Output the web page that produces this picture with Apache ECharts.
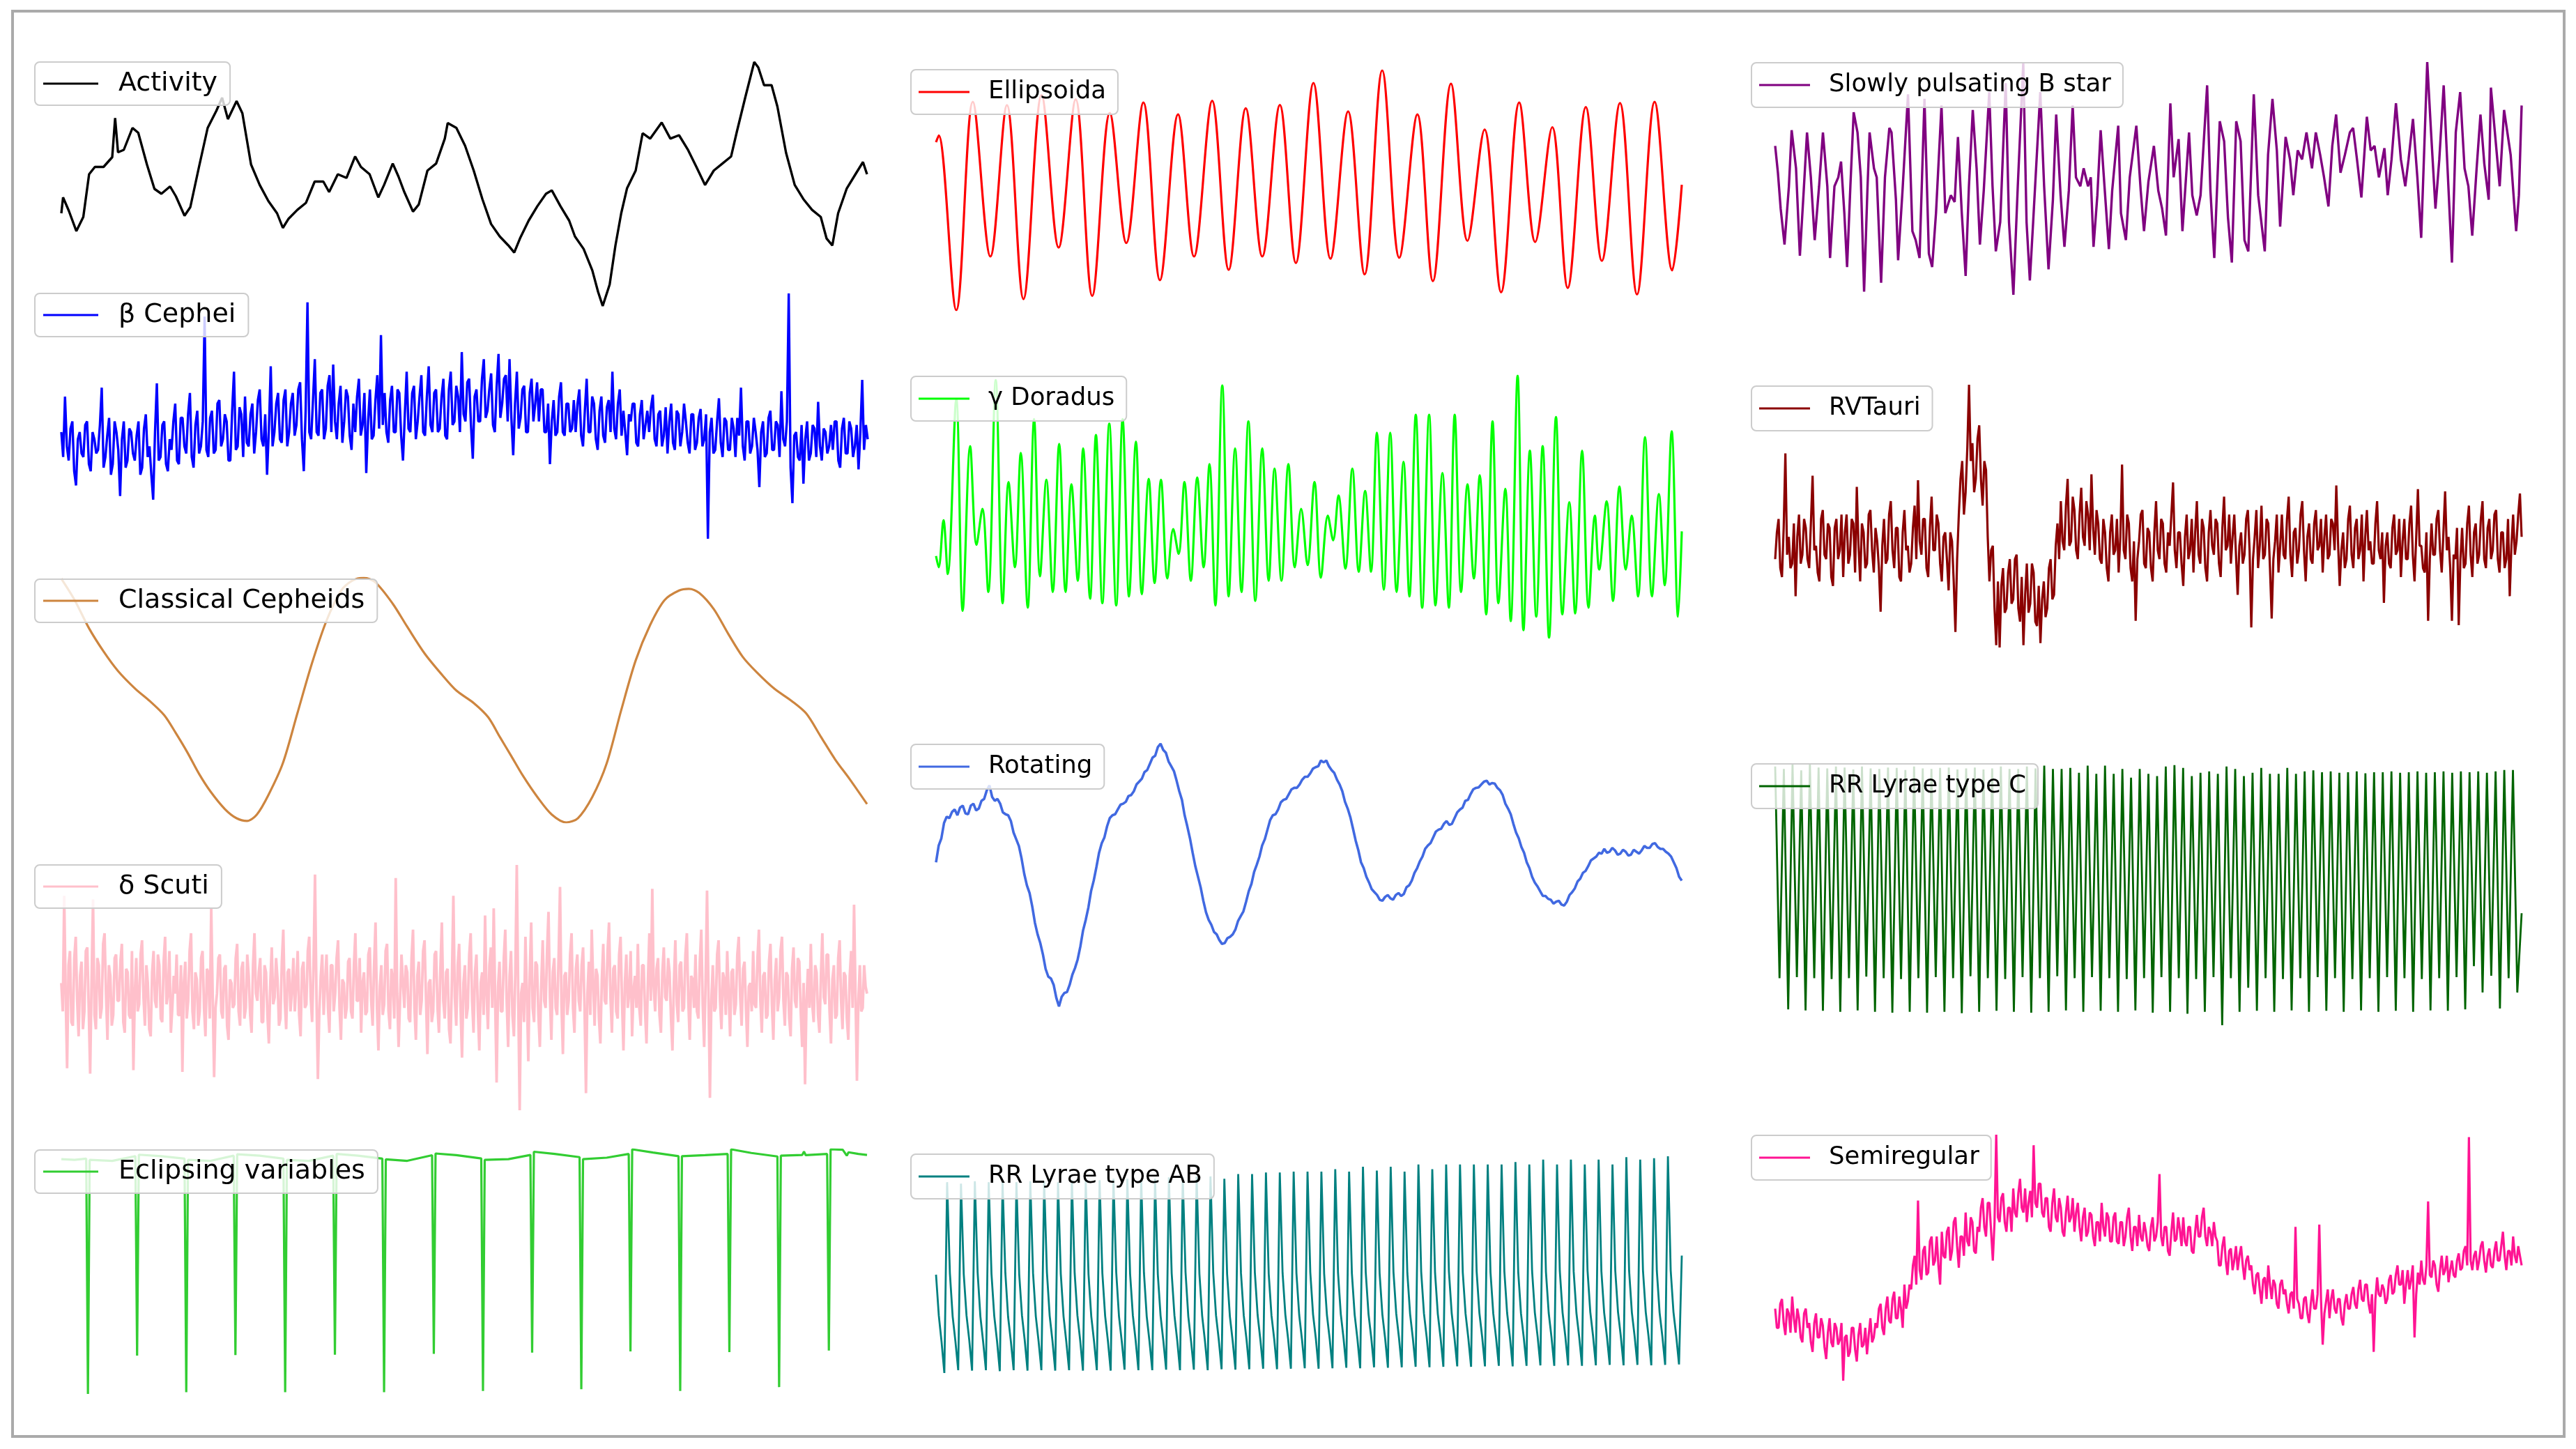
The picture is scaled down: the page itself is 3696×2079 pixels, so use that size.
<!DOCTYPE html>
<html>
<head>
<meta charset="utf-8">
<title>Variable star light curves</title>
<script src="https://cdn.jsdelivr.net/npm/echarts@6/dist/echarts.min.js"></script>
<style>
  html, body { margin: 0; padding: 0; background: #ffffff; }
  #chart { width: 3696px; height: 2079px; }
</style>
</head>
<body>
<div id="chart"></div>
<script>
// light curves, flux in arbitrary relative units
const activityTime = [107,110,120,133,145,155,165,180,195,200,205,215,230,240,255,268,280,295,305,320,
  330,345,360,375,385,395,410,420,435,450,465,480,490,500,515,530,545,560,570,585,
  600,615,625,640,655,665,680,690,700,715,725,740,755,770,775,790,805,820,835,850,
  865,880,890,900,915,930,945,955,970,985,995,1010,1025,1035,1043,1055,1065,1075,1085,1100,
  1112,1125,1145,1160,1175,1190,1205,1220,1235,1250,1265,1275,1290,1305,1312,1322,1335,1345,1360,1375,
  1390,1405,1420,1430,1440,1450,1465,1480,1493,1500];
const activityFlux = [38,44.5,39,30.7,36.5,54,57,57,61,77,63,64,73,71,58,48,46,49,45,37,
  40.5,57,73,80,85.4,76.6,84,79,58,49.6,43,38,32,35.8,39.4,42.3,51,51,46.7,54,
  52.5,61.3,57,54,44.5,49.6,58.4,53,46.7,38.7,41.6,55.5,58.4,68.6,75,73,65.7,55.5,43.8,33.6,
  28.5,24.8,21.9,27.7,35,40.9,46,47.4,40.9,35,28.5,23.4,14.6,5.8,0,8.8,24.8,38,48.2,55.5,
  70.8,68.6,75.2,68.6,70,64.2,57,49.6,55.5,58.4,61.3,71.5,86,100,97.8,90.5,90.5,81.8,62.8,49.6,
  43.8,39.4,36.5,27.7,24.8,38,48.2,54,59,54];

const betaCepFlux = [
  300,230,400,260,220,310,330,190,150,280,300,240,230,320,330,210,190,300,280,240,
  250,320,425,200,230,290,340,180,210,330,300,250,120,280,330,200,220,310,300,240,
  220,290,330,180,200,310,350,230,260,180,110,300,437,220,230,320,330,210,190,280,
  250,330,380,220,210,340,340,260,240,350,410,230,200,320,360,240,260,330,625,250,
  230,340,360,240,250,380,390,260,280,350,330,220,220,360,470,250,260,370,350,230,
  400,270,260,350,380,240,300,390,420,280,260,350,180,310,485,260,300,380,410,280,
  270,390,420,260,300,380,410,290,320,420,440,280,190,360,665,300,280,390,505,300,
  290,410,420,280,310,430,460,300,490,330,280,380,430,270,330,420,400,290,250,380,
  300,400,450,290,320,410,185,330,420,280,290,390,460,310,573,320,410,300,270,390,
  430,300,300,420,410,290,220,350,470,310,300,410,430,280,330,400,460,300,290,400,
  485,320,300,410,420,300,310,400,450,290,280,420,470,320,330,430,400,300,525,350,
  330,440,450,320,225,400,420,330,330,450,505,340,360,420,465,320,300,430,520,340,
  380,450,460,330,505,340,235,380,470,310,340,420,430,300,300,410,450,330,380,440,
  330,420,420,300,300,380,210,330,390,290,300,400,440,300,290,380,380,300,310,390,
  300,380,420,290,260,360,450,300,300,400,380,280,250,360,400,290,270,370,390,300,
  470,310,280,380,420,290,360,300,235,350,330,380,380,270,260,350,390,280,320,360,
  300,370,405,280,260,350,360,260,290,370,240,330,380,270,250,360,350,260,300,380,
  330,270,240,350,350,250,270,340,365,260,280,350,0,300,340,240,250,330,395,270,
  230,340,330,250,250,340,310,230,340,290,425,260,220,330,330,240,260,340,300,250,
  145,300,330,230,240,340,360,250,250,330,320,230,415,280,260,330,690,200,100,290,
  300,230,220,320,155,280,330,220,240,320,310,230,385,260,220,310,300,240,260,320,
  250,330,330,220,200,310,340,240,240,330,310,230,260,320,195,300,447,250,320,280];

const cepheidTime = [107,130,155,180,205,235,260,285,305,325,345,365,390,410,428,445,465,490,515,540,
  565,590,610,630,650,680,705,735,765,790,820,845,865,885,905,930,955,980,1000,1025,
  1050,1075,1100,1125,1150,1175,1192,1210,1235,1260,1285,1310,1340,1370,1395,1420,1445,1470,1500];
const cepheidFlux = [99.6,90.9,79.3,69.9,61.9,54.6,49.6,43.8,36.5,28.6,19.9,12.6,5.4,1.7,0.6,3.2,11.2,24.2,44.5,64.8,
  82.2,94.5,98.8,100,98.1,89.4,80,69.1,60.4,53.9,48.8,43,35,27.1,19.1,10.4,3.2,0,1.7,10.4,
  24.2,45.9,66.2,80.7,90.9,94.8,95.5,93.8,87.2,77.1,67.7,61.2,54.6,49.6,44.5,35.1,25.7,17.7,7.5];

const deltaScutiFlux = [
  330,250,575,300,90,380,420,220,210,400,460,280,180,350,390,200,250,420,430,260,75,340,565,240,200,400,380,230,260,440,470,300,170,380,350,210,240,400,410,280,
  280,390,440,220,190,370,360,240,230,420,85,300,400,250,270,410,450,290,210,380,330,200,180,360,420,280,260,410,380,230,220,390,460,270,300,420,190,260,350,300,
  410,240,240,380,80,330,390,230,280,420,470,250,200,360,340,210,250,400,420,260,180,370,360,230,540,300,65,260,300,400,410,250,230,370,380,210,170,340,330,260,
  270,400,440,250,210,370,390,230,260,410,350,240,190,380,470,300,280,360,400,220,220,380,360,240,160,330,430,270,290,400,340,210,230,390,480,280,200,360,370,250,
  310,400,250,330,420,240,180,370,390,260,270,420,460,290,220,380,635,300,60,250,350,410,240,330,410,260,190,380,380,250,300,400,450,260,170,340,330,230,260,390,
  400,250,230,380,470,280,280,400,190,330,360,240,250,410,430,280,210,380,500,260,140,320,380,240,270,420,440,250,200,370,340,230,625,300,150,280,410,330,260,380,
  360,230,220,400,480,260,170,350,390,240,280,420,450,290,130,330,340,220,250,410,420,260,190,370,500,280,230,360,370,200,160,340,575,290,210,380,440,260,120,330,
  380,230,260,410,470,280,190,360,410,250,140,330,360,240,520,300,200,380,430,260,540,280,50,320,390,250,250,400,480,280,150,350,420,240,180,360,662,290,-28,300,
  330,220,460,300,110,360,500,260,220,390,380,240,150,330,450,280,260,420,530,290,170,360,400,260,240,400,600,270,130,350,360,240,280,410,470,260,190,370,410,280,
  250,380,430,260,20,300,390,240,480,330,210,370,350,230,160,340,440,280,270,420,500,290,190,370,380,250,230,410,460,280,140,330,410,260,300,420,180,310,350,260,
  440,260,210,380,380,250,160,340,470,280,595,320,250,370,400,240,190,360,430,290,280,400,360,230,140,330,450,270,220,380,390,250,260,410,470,280,170,350,340,260,
  410,250,230,390,480,270,150,330,590,300,7,280,380,250,260,410,450,280,200,360,340,240,420,300,180,360,370,240,270,410,460,290,210,370,390,260,150,320,330,250,
  420,270,260,400,480,280,190,350,360,230,240,390,440,270,170,340,400,250,290,420,460,280,210,360,350,230,180,370,430,280,260,400,390,250,150,330,45,280,370,260,
  440,270,220,380,360,240,190,350,470,290,270,410,410,250,160,340,380,230,240,400,450,280,200,360,350,230,170,350,420,260,550,300,55,280,380,250,260,380,320,300];

const eclipsingTime = [107,130,150,153,156,195,235,238,241,280,320,323,326,365,405,408,411,450,491,494,
  497,535,577,580,583,620,662,665,668,705,748,751,754,790,833,836,839,880,918,921,
  924,960,1003,1006,1009,1050,1088,1091,1094,1130,1174,1177,1180,1220,1259,1262,1265,1300,1345,1348,
  1351,1388,1391,1394,1431,1434,1437,1458,1465,1468,1485,1500];
const eclipsingFlux = [95.8,95.5,96.0,0.2,95.5,95.1,97.0,15.8,97.6,97.0,96.0,0.9,95.5,95.1,97.2,16,97.8,97.2,96.0,0.9,
  95.5,95.1,97.2,16.2,97.9,97.2,96.0,0.9,95.7,95.1,97.4,16.5,98.1,97.4,96.1,1.4,95.5,95.8,97.5,17,
  98.8,97.9,96.6,2.1,95.8,96.4,97.9,17.5,99.8,98.5,97.0,1.4,97.0,97.4,97.9,17.2,99.8,98.3,96.9,3,
  97.2,97.5,98.9,97.4,97.9,17.9,99.8,99.6,97.2,98.6,97.9,97.5];

const ellipsoidalTime = [108,113,146,177,210,241,272,306,338,370,401,434,465,497,528,562,592,626,657,689,
  720,753,783,816,848,881,912,945,977,1011,1040,1074,1105,1137,1168,1202,1232,1264,1293,1327,
  1357,1391,1423,1456,1489,1507];
const ellipsoidalFlux = [69.9,72.7,0.4,86.6,22.6,85.2,5,89.4,26.3,87.6,6.3,82,28.2,86.3,12.8,81.4,22.6,87,17.1,83.9,
  22.6,85.3,19.9,94.4,21.7,82.6,15.2,99.6,22.1,81.4,12.4,94.1,29.1,75.1,7.8,86.3,28.6,76.1,9.6,84.4,
  20.8,86.1,6.9,86.6,16.9,52.3];

const gammaDorTime = [108,113,122,130,146,158,172,184,195,206,220,233,244,256,267,280,292,303,315,327,
  339,351,362,374,384,397,408,420,433,446,458,470,483,494,507,518,530,542,553,563,
  574,586,598,610,621,632,645,657,669,681,694,707,720,732,743,756,769,781,793,805,
  818,830,843,853,863,876,889,901,913,924,935,948,960,972,985,996,1008,1020,1033,1045,
  1058,1070,1081,1093,1105,1117,1128,1140,1152,1163,1176,1186,1199,1210,1222,1234,1246,1258,1271,1283,
  1296,1307,1320,1332,1344,1352,1366,1378,1390,1402,1413,1425,1438,1451,1464,1475,1488,1500,1507];
const gammaDorFlux = [185,160,265,145,535,63,430,210,290,105,577,80,350,160,415,70,490,140,355,105,
  435,105,345,130,425,90,455,80,480,75,490,95,440,100,357,125,355,135,245,190,
  350,130,360,160,390,75,565,95,425,105,485,85,425,130,380,130,390,160,290,165,
  350,137,275,220,320,157,380,150,330,150,460,110,460,105,395,95,500,70,500,75,
  370,70,500,105,345,135,365,55,485,80,335,40,587,20,420,50,430,3,495,55,
  305,57,420,70,275,155,307,85,340,155,275,95,450,95,323,120,463,50,240];

const rotatingFlux = [
  300,335,350,382,395,392,405,410,398,414,418,402,400,418,422,408,412,428,432,450,
  460,436,428,432,422,404,400,398,386,362,348,334,308,276,252,236,208,174,150,132,
  108,78,62,58,45,18,0,20,28,30,45,66,80,98,125,158,180,206,240,262,
  290,320,340,352,375,392,398,400,410,420,422,426,438,440,448,462,468,474,488,492,
  505,518,522,540,547,534,528,510,500,490,470,448,430,398,375,350,320,292,270,248,
  220,196,180,170,155,150,138,130,132,142,145,150,160,178,188,198,218,240,255,280,
  295,312,335,348,368,388,398,400,410,425,430,432,442,452,455,455,462,472,478,478,
  485,495,498,500,512,508,512,500,492,486,472,462,448,426,412,394,370,345,325,300,
  288,270,258,244,238,232,222,220,228,232,225,222,232,236,230,234,248,252,262,278,
  288,302,312,328,335,340,352,364,368,370,380,386,378,380,392,404,410,414,428,430,
  442,452,455,456,462,468,470,462,465,464,455,450,440,422,412,400,380,362,350,332,
  320,300,288,270,258,250,240,230,230,224,222,214,218,220,212,210,218,232,238,246,
  260,266,278,282,292,304,308,312,320,318,328,320,322,330,325,316,318,326,322,314,
  316,326,322,318,325,334,330,330,338,340,332,328,328,322,318,312,300,288,270,262];

const rrLyraeABFlux = [205,120,65,0,
  398,208,118,66,6, 395,206,120,68,5, 400,210,118,65,6, 398,207,119,67,4, 398,209,117,66,6,
  398,206,120,68,5, 400,208,118,66,6, 400,210,119,67,5, 398,207,118,65,6, 402,209,120,68,5,
  402,206,118,66,6, 402,208,119,67,5, 405,210,118,66,7, 405,207,120,68,6, 405,209,118,66,6,
  405,206,119,67,7, 408,208,120,68,6, 408,210,118,66,7, 410,207,119,67,6, 410,209,120,69,8,
  405,206,118,67,7, 415,208,120,70,8, 415,210,121,69,9, 418,207,120,70,8, 418,209,122,71,9,
  420,208,121,70,10, 420,210,122,72,9, 420,207,121,71,10, 425,209,123,72,11, 420,208,122,71,10,
  430,210,123,73,12, 422,208,122,72,11, 430,211,124,73,12, 420,209,123,72,13, 435,211,124,74,12,
  425,209,123,73,13, 435,212,125,74,14, 435,210,124,73,13, 435,212,125,75,14, 435,210,124,74,15,
  435,212,125,75,14, 440,211,124,74,15, 435,213,126,76,16, 445,211,125,75,15, 435,213,126,76,16,
  445,212,125,75,15, 435,214,127,77,16, 445,212,126,76,17, 435,214,127,77,16, 450,213,126,76,17,
  445,214,127,77,16, 448,213,126,76,17, 452,214,127,77,18,
  245];

const spbTime = [110,115,120,127,135,140,148,155,162,168,175,182,190,197,205,210,218,225,230,236,
  241,247,253,260,266,272,278,282,290,295,303,310,318,322,330,334,342,352,360,366,
  373,382,390,396,403,413,420,430,437,443,450,457,463,470,477,483,490,500,506,512,
  520,530,536,544,552,562,568,574,580,593,600,608,616,622,630,637,645,652,658,666,
  672,680,685,690,697,703,710,718,724,735,740,749,756,768,776,782,790,800,808,815,
  822,830,836,845,852,864,870,878,885,897,903,910,920,928,935,942,950,958,965,972,
  982,990,1002,1008,1016,1024,1030,1040,1048,1054,1062,1070,1078,1088,1095,1103,1110,1118,1125,1132,
  1140,1148,1157,1163,1170,1178,1188,1195,1202,1210,1220,1226,1233,1241,1250,1258,1264,1272,1280,1287,
  1298,1305,1313,1320,1328,1335,1343,1350,1358,1366,1373,1380,1388,1395,1402,1410,1414,1422,1430,1438,
  1444,1450,1460,1465,1470];
const spbFlux = [333,273,193,113,243,368,283,88,233,363,263,123,243,363,243,83,243,263,298,183,
  63,243,408,363,263,8,233,363,283,263,28,263,373,363,213,78,233,448,143,123,
  83,438,93,63,183,423,183,223,208,353,183,43,243,413,283,113,233,453,243,98,
  163,473,163,1,243,518,163,33,163,453,243,58,213,403,223,108,233,423,263,243,
  283,243,263,108,223,368,243,103,233,378,183,123,263,378,233,143,253,333,233,193,
  133,428,263,348,143,363,223,178,223,468,233,83,388,343,173,73,388,343,123,98,
  448,223,98,313,438,323,153,353,303,223,323,303,363,283,363,313,263,198,333,403,
  273,313,363,373,303,218,398,323,333,263,328,223,303,428,303,243,303,393,263,128,
  520,363,193,303,468,283,73,363,453,283,243,133,283,403,293,213,463,353,243,413,
  363,313,143,223,423];

const rvTauriFlux = [
  200,260,290,180,160,270,437,210,250,180,190,280,117,250,300,190,210,290,270,200,
  180,280,387,220,230,170,150,290,310,210,200,280,270,160,140,270,290,200,220,300,
  160,260,300,190,210,290,280,170,362,230,150,280,260,180,190,300,310,220,170,270,
  240,180,82,230,290,190,200,300,330,220,180,270,270,160,150,260,310,220,230,170,
  190,270,320,200,377,240,210,290,290,180,160,270,340,220,220,300,280,190,150,250,
  260,200,130,260,240,150,37,200,300,380,420,300,350,450,591,420,460,350,380,470,
  500,380,320,420,400,250,150,220,230,90,7,150,2,140,180,80,90,170,200,100,
  110,200,210,90,60,160,7,120,190,80,100,190,170,60,50,140,12,110,150,70,
  90,180,200,110,120,230,280,200,330,240,220,320,380,230,240,340,310,220,200,300,
  360,250,230,330,300,220,390,270,210,310,280,200,190,290,260,180,150,260,300,210,
  220,290,170,250,412,220,200,300,280,180,150,240,62,200,240,300,310,190,180,270,
  260,180,150,260,330,220,200,290,280,190,170,260,230,300,372,220,180,260,260,190,
  140,250,300,200,220,290,170,260,330,210,190,290,270,180,150,260,310,230,210,290,
  280,190,160,270,340,220,230,300,190,250,300,210,120,230,260,190,210,290,310,220,
  47,200,250,310,180,230,320,200,210,290,280,180,67,200,240,300,170,230,300,210,
  200,290,340,210,160,260,270,190,220,300,330,220,150,250,280,200,190,280,310,220,
  230,290,170,250,300,200,210,290,280,220,365,240,140,220,260,180,200,290,320,210,
  180,270,290,200,220,300,150,250,310,220,240,190,190,280,330,220,200,260,102,230,
  260,190,180,270,300,210,220,290,160,240,290,200,200,280,320,210,150,250,357,230,
  230,180,170,260,62,200,280,210,210,290,310,220,170,260,352,220,250,180,62,210,
  200,270,52,200,270,180,190,280,320,210,160,260,280,190,210,290,330,200,180,270,
  290,200,220,300,310,200,170,260,260,180,200,290,117,230,300,210,240,300,347,250];

const rrLyraeCFlux = [
  540,100,535,35, 545,102,532,33, 547,100,538,32, 536,98,540,30, 538,100,534,33,
  540,103,536,30, 535,100,538,28, 537,98,533,30, 540,100,536,28, 535,102,537,30,
  538,100,534,27, 536,104,538,30, 534,100,536,32, 540,98,535,30, 535,102,540,28,
  536,100,542,30, 535,104,535,33, 537,100,527,30, 542,102,525,32, 542,100,525,30,
  535,98,517,33, 535,100,525,28, 520,102,540,30, 543,100,537,26, 520,98,527,30,
  530,102,525,2, 540,100,535,30, 520,80,527,32, 537,100,525,30, 525,98,537,33,
  525,100,530,30, 532,102,528,32, 530,100,527,30, 528,98,530,33, 526,100,528,30,
  528,102,530,32, 527,100,528,30, 530,98,527,33, 528,100,530,32, 527,102,530,35,
  528,125,530,70, 527,105,530,37, 533,100,533,70,
  235];

const semiregularFlux = [
  150,110,110,160,170,120,95,150,140,100,175,130,100,150,130,90,80,140,150,110,
  120,80,60,120,140,90,90,130,115,70,45,100,130,80,70,120,110,75,85,120,
  0,90,95,50,60,110,110,65,40,95,120,70,75,110,55,95,130,80,90,120,
  110,150,160,110,95,150,175,125,120,170,185,130,130,175,150,110,200,150,165,200,
  190,240,260,200,375,230,210,270,280,220,225,290,300,240,250,300,240,200,310,260,
  255,310,320,250,270,330,340,280,235,300,300,260,350,290,280,340,330,270,265,320,
  310,360,380,320,300,370,370,310,250,330,512,340,330,380,390,330,310,360,360,310,
  400,350,340,390,420,360,350,400,330,370,395,340,490,370,360,410,410,350,340,380,
  380,320,310,370,400,340,330,380,360,310,300,350,385,330,340,380,310,350,370,320,
  290,340,360,300,310,350,345,300,280,330,330,290,370,320,300,350,340,290,290,340,
  350,290,285,330,330,280,300,340,360,300,270,320,320,280,345,300,290,330,310,280,
  270,320,340,290,300,330,430,300,280,320,320,270,260,310,350,290,295,340,315,280,
  340,290,280,320,320,270,265,310,345,300,300,340,360,300,280,320,310,280,330,300,
  290,240,240,280,300,250,220,270,275,230,250,280,230,260,280,240,210,250,260,230,
  240,200,180,220,225,190,160,210,215,170,240,200,170,210,200,160,150,200,210,180,
  190,160,140,180,185,150,320,170,160,130,130,170,175,140,120,160,190,150,150,180,
  325,170,75,140,165,190,130,170,190,150,140,170,170,130,115,160,180,150,150,180,
  195,160,150,190,210,170,165,200,200,160,140,180,60,170,215,180,175,200,190,160,
  170,210,220,180,185,220,240,200,200,230,160,200,230,190,210,240,90,180,225,200,
  250,210,200,240,373,220,215,250,240,200,185,230,260,220,230,260,205,230,250,220,
  215,250,265,230,235,270,280,240,507,250,230,260,270,230,250,280,290,250,225,260,
  275,240,235,270,290,250,250,280,310,260,230,270,270,240,300,260,245,280,260,240];

// layout: box = [left, top, width, height] of the drawn curve, legend = [left, top]
// the left column is drawn a little larger than the two others
const legendLeftCol = { fontSize: 38, itemWidth: 79, padding: [9, 18, 9, 12], gap: 24, lineHeight: 44 };
const legendOtherCol = { fontSize: 35.5, itemWidth: 73, padding: [10, 17, 10, 11], gap: 22, lineHeight: 44 };

const panels = [
  { name: 'Activity', color: '#000000', time: activityTime, flux: activityFlux, box: [88, 89, 1156, 350], legend: [50, 89], lg: legendLeftCol, width: 3.4 },
  { name: 'β Cephei', color: '#0000ff', flux: betaCepFlux, box: [88, 421, 1157, 352], legend: [50, 421], lg: legendLeftCol, width: 3.4 },
  { name: 'Classical Cepheids', color: '#cd853f', time: cepheidTime, flux: cepheidFlux, box: [88, 829, 1156, 351], legend: [50, 831], lg: legendLeftCol, width: 3.2, smooth: 0.3 },
  { name: 'δ Scuti', color: '#ffc0cb', flux: deltaScutiFlux, box: [88, 1241, 1156, 352], legend: [50, 1241], lg: legendLeftCol, width: 3.8 },
  { name: 'Eclipsing variables', color: '#32cd32', time: eclipsingTime, flux: eclipsingFlux, box: [88, 1649, 1156, 351], legend: [50, 1650], lg: legendLeftCol, width: 3.2 },
  { name: 'Ellipsoida', color: '#ff0000', time: ellipsoidalTime, flux: ellipsoidalFlux, box: [1343, 101, 1070, 344], legend: [1307, 100], lg: legendOtherCol, width: 3.2, smooth: 0.35 },
  { name: 'γ Doradus', color: '#00ff00', time: gammaDorTime, flux: gammaDorFlux, box: [1343, 539, 1070, 376], legend: [1307, 540], lg: legendOtherCol, width: 3.2, smooth: 0.35 },
  { name: 'Rotating', color: '#4169e1', flux: rotatingFlux, box: [1343, 1067, 1070, 377], legend: [1307, 1068], lg: legendOtherCol, width: 3.6 },
  { name: 'RR Lyrae type AB', color: '#008080', flux: rrLyraeABFlux, box: [1343, 1659, 1070, 311], legend: [1307, 1656], lg: legendOtherCol, width: 2.8 },
  { name: 'Slowly pulsating B star', color: '#800080', time: spbTime, flux: spbFlux, box: [2547, 89, 1071, 334], legend: [2513, 90], lg: legendOtherCol, width: 3.4 },
  { name: 'RVTauri', color: '#8b0000', flux: rvTauriFlux, box: [2547, 552, 1071, 377], legend: [2513, 554], lg: legendOtherCol, width: 3.2 },
  { name: 'RR Lyrae type C', color: '#006400', flux: rrLyraeCFlux, box: [2547, 1095, 1071, 376], legend: [2513, 1096], lg: legendOtherCol, width: 2.8 },
  { name: 'Semiregular', color: '#ff1493', flux: semiregularFlux, box: [2547, 1628, 1071, 353], legend: [2513, 1629], lg: legendOtherCol, width: 3.2 }
];

const chart = echarts.init(document.getElementById('chart'), null, { renderer: 'canvas' });

const option = {
  animation: false,
  backgroundColor: '#ffffff',
  grid: panels.map(p => ({ left: p.box[0], top: p.box[1], width: p.box[2], height: p.box[3] })),
  xAxis: panels.map((p, i) => ({ type: 'value', gridIndex: i, min: 'dataMin', max: 'dataMax', show: false })),
  yAxis: panels.map((p, i) => ({ type: 'value', gridIndex: i, min: 'dataMin', max: 'dataMax', show: false })),
  legend: panels.map(p => ({
    data: [p.name],
    left: p.legend[0],
    top: p.legend[1],
    icon: 'rect',
    itemWidth: p.lg.itemWidth,
    itemHeight: 3,
    selectedMode: false,
    padding: p.lg.padding,
    backgroundColor: 'rgba(255,255,255,0.8)',
    borderColor: '#cccccc',
    borderWidth: 2,
    borderRadius: 7,
    z: 10,
    textStyle: {
      fontFamily: 'DejaVu Sans',
      fontSize: p.lg.fontSize,
      color: '#000000',
      lineHeight: p.lg.lineHeight,
      padding: [0, 0, 0, p.lg.gap]
    }
  })),
  series: panels.map((p, i) => ({
    type: 'line',
    name: p.name,
    xAxisIndex: i,
    yAxisIndex: i,
    color: p.color,
    showSymbol: false,
    symbol: 'none',
    smooth: p.smooth || false,
    silent: true,
    lineStyle: { color: p.color, width: p.width },
    data: p.time ? p.time.map((t, k) => [t, p.flux[k]]) : p.flux.map((v, k) => [k, v])
  })),
  graphic: [{
    type: 'rect',
    silent: true,
    shape: { x: 18, y: 16, width: 3661, height: 2045 },
    style: { fill: 'none', stroke: '#aaaaaa', lineWidth: 4 }
  }]
};

chart.setOption(option);
window.addEventListener('resize', function() {
  chart.resize();
});
</script>
</body>
</html>
